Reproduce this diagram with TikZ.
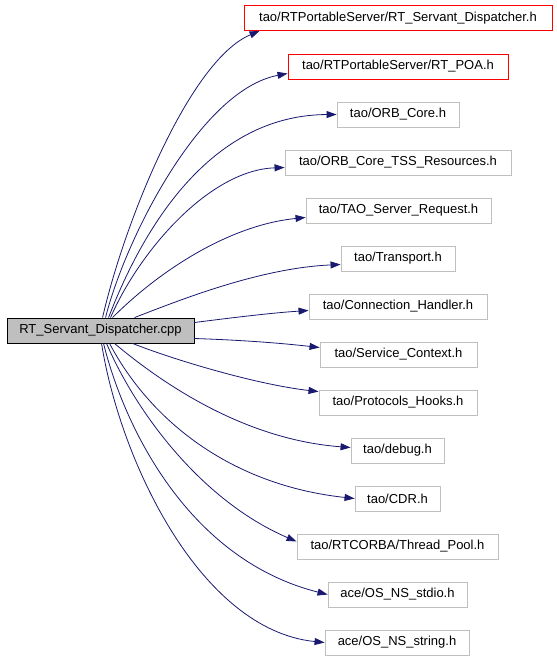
\documentclass[tikz,border=0pt]{standalone}
\usepackage{fontspec}
\setmainfont{Liberation Sans}
\usetikzlibrary{arrows.meta,calc}
\definecolor{edgeblue}{HTML}{191970}
\definecolor{boxgray}{HTML}{BFBFBF}
\tikzset{
  filebox/.style={draw=boxgray, line width=0.9pt, minimum height=25pt, inner sep=0pt, font=\fontsize{13}{15}\selectfont},
  redbox/.style={filebox, draw=red},
  mainbox/.style={draw=black, fill=boxgray, line width=0.9pt, minimum height=25pt, minimum width=187pt, inner sep=0pt, font=\fontsize{13}{15}\selectfont},
  dep/.style={draw=edgeblue, line width=0.8pt, -{Triangle[length=10pt,width=7pt]}}
}
\begin{document}
\begin{tikzpicture}[x=1pt,y=-1pt]
\useasboundingbox (0,0) rectangle (557,659);
\node[mainbox] (main) at (100.5,330.5) {RT\_Servant\_Dispatcher.cpp};
\node[redbox, minimum width=308pt] (n1) at (398,18) {tao/RTPortableServer/RT\_Servant\_Dispatcher.h};
\node[redbox, minimum width=220pt] (n2) at (398,66.5) {tao/RTPortableServer/RT\_POA.h};
\node[filebox, minimum width=122pt] (n3) at (398,114.5) {tao/ORB\_Core.h};
\node[filebox, minimum width=226pt] (n4) at (398,162.5) {tao/ORB\_Core\_TSS\_Resources.h};
\node[filebox, minimum width=185pt] (n5) at (398.5,210.5) {tao/TAO\_Server\_Request.h};
\node[filebox, minimum width=114pt] (n6) at (398,258.5) {tao/Transport.h};
\node[filebox, minimum width=178pt] (n7) at (398,306.5) {tao/Connection\_Handler.h};
\node[filebox, minimum width=157pt] (n8) at (398.5,354.5) {tao/Service\_Context.h};
\node[filebox, minimum width=158pt] (n9) at (398,402.5) {tao/Protocols\_Hooks.h};
\node[filebox, minimum width=93pt] (n10) at (397.5,450.5) {tao/debug.h};
\node[filebox, minimum width=85pt] (n11) at (397.5,498.5) {tao/CDR.h};
\node[filebox, minimum width=201pt] (n12) at (397.5,546.5) {tao/RTCORBA/Thread\_Pool.h};
\node[filebox, minimum width=139pt] (n13) at (397.5,594.5) {ace/OS\_NS\_stdio.h};
\node[filebox, minimum width=144pt] (n14) at (397,642.5) {ace/OS\_NS\_string.h};

\draw[dep] ($(main.north west)+(96,0)$) .. controls (125,220) and (190,60) .. ($(n1.south west)+(16,0)$);
\draw[dep] ($(main.north west)+(99,0)$) .. controls (125,240) and (200,90) .. ($(n2.west)+(0,7)$);
\draw[dep] ($(main.north west)+(102,0)$) .. controls (150,210) and (220,115) .. (n3.west);
\draw[dep] ($(main.north west)+(104,0)$) .. controls (140,250) and (210,170) .. ($(n4.west)+(0,5)$);
\draw[dep] ($(main.north west)+(106,0)$) .. controls (160,270) and (230,225) .. ($(n5.west)+(0,7)$);
\draw[dep] ($(main.north west)+(128,0)$) .. controls (180,300) and (260,268) .. ($(n6.west)+(0,6)$);
\draw[dep] ($(main.east)+(0,-8)$) .. controls (230,318) and (270,313) .. ($(n7.west)+(0,4)$);
\draw[dep] ($(main.east)+(0,8)$) .. controls (240,340) and (280,343) .. ($(n8.west)+(0,-7)$);
\draw[dep] ($(main.south west)+(126,0)$) .. controls (180,362) and (260,385) .. ($(n9.north west)+(0,2)$);
\draw[dep] ($(main.south west)+(108,0)$) .. controls (170,390) and (250,440) .. ($(n10.west)+(0,-3)$);
\draw[dep] ($(main.south west)+(103,0)$) .. controls (150,420) and (230,485) .. (n11.west);
\draw[dep] ($(main.south west)+(100,0)$) .. controls (135,410) and (200,500) .. ($(n12.west)+(0,-5)$);
\draw[dep] ($(main.south west)+(97,0)$) .. controls (125,430) and (190,560) .. (n13.west);
\draw[dep] ($(main.south west)+(95,0)$) .. controls (120,460) and (200,630) .. (n14.west);
\end{tikzpicture}
\end{document}
